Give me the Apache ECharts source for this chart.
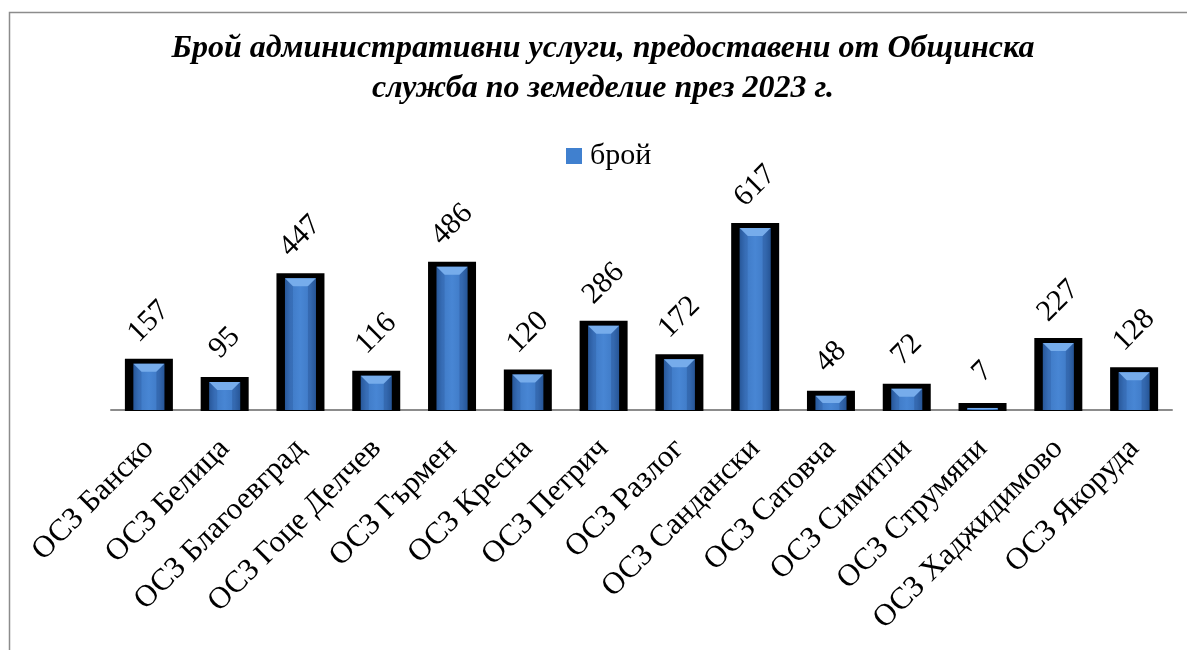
<!DOCTYPE html>
<html>
<head>
<meta charset="utf-8">
<script src="https://cdn.jsdelivr.net/npm/echarts@6/dist/echarts.min.js"></script>
<style>
html,body{margin:0;padding:0;background:#fff;}
#c{width:1187px;height:650px;}
</style>
</head>
<body>
<div id="c"></div>
<script>
const titleText = 'Брой административни услуги, предоставени от Общинска\nслужба по земеделие през 2023 г.';
const seriesName = 'брой';
const categories = ['ОСЗ Банско','ОСЗ Белица','ОСЗ Благоевград','ОСЗ Гоце Делчев','ОСЗ Гърмен','ОСЗ Кресна','ОСЗ Петрич','ОСЗ Разлог','ОСЗ Сандански','ОСЗ Сатовча','ОСЗ Симитли','ОСЗ Струмяни','ОСЗ Хаджидимово','ОСЗ Якоруда'];
const values = [157,95,447,116,486,120,286,172,617,48,72,7,227,128];

const chart = echarts.init(document.getElementById('c'), null, {renderer:'canvas'});
const FONT = "'Liberation Serif','Times New Roman',serif";

function renderItem(params, api){
  const idx = api.value(0);
  const val = api.value(1);
  const top = api.coord([idx, val]);
  const base = api.coord([idx, 0]);
  const cx = top[0];
  const ty = top[1];
  const by = base[1];
  const ow = 48, iw = 31;
  const h = by - ty;
  const bev = Math.min(8, h/2);
  const label = String(val);
  const off = 33 + 3*label.length;
  return {
    type:'group',
    children:[
      {type:'rect', shape:{x:cx-ow/2, y:ty-5, width:ow, height:by-ty+6}, style:{fill:'#000'}},
      {type:'rect', shape:{x:cx-iw/2, y:ty, width:iw, height:h},
        style:{fill:new echarts.graphic.LinearGradient(0,0,1,0,[
          {offset:0,color:'#2c5fa3'},{offset:0.18,color:'#3f7ac6'},{offset:0.5,color:'#4886d4'},{offset:0.82,color:'#3f7ac6'},{offset:1,color:'#2c5fa3'}])}},
      {type:'polygon', shape:{points:[[cx-iw/2,ty],[cx+iw/2,ty],[cx+iw/2-bev,ty+bev],[cx-iw/2+bev,ty+bev]]},
        style:{fill:'#76aceb'}},
      {type:'polygon', shape:{points:[[cx-iw/2,ty],[cx-iw/2+bev,ty+bev],[cx-iw/2+bev,by],[cx-iw/2,by]]},
        style:{fill:'rgba(25,60,120,0.2)'}},
      {type:'polygon', shape:{points:[[cx+iw/2,ty],[cx+iw/2-bev,ty+bev],[cx+iw/2-bev,by],[cx+iw/2,by]]},
        style:{fill:'rgba(25,60,120,0.28)'}},
      {type:'text', x:cx, y:ty-off, rotation:Math.PI/4,
        style:{text:label, font:"30px "+FONT, fill:'#000', align:'center', verticalAlign:'middle'}}
    ]
  };
}

chart.setOption({
  animation:false,
  backgroundColor:'#fff',
  graphic:[{type:'rect', shape:{x:9.5, y:12.5, width:1200, height:700}, style:{fill:'none', stroke:'#8c8c8c', lineWidth:1.5}, z:-1}],
  title:{
    text:titleText, left:598, top:24, textAlign:'center',
    textStyle:{fontFamily:FONT, fontStyle:'italic', fontWeight:'bold', fontSize:32, lineHeight:40, color:'#000'}
  },
  legend:{
    data:[{name:seriesName, icon:'rect'}], top:136, left:561,
    itemWidth:16, itemHeight:16, itemGap:4,
    textStyle:{fontFamily:FONT, fontSize:30, color:'#000', padding:[0,0,0,3]}
  },
  grid:{left:111, right:15, top:203.5, bottom:240, containLabel:false},
  xAxis:{
    type:'category', data:categories,
    axisLine:{lineStyle:{color:'#8c8c8c', width:2}},
    axisTick:{show:false},
    axisLabel:{rotate:45, interval:0, margin:34, fontFamily:FONT, fontSize:31, color:'#000'}
  },
  yAxis:{type:'value', min:0, max:700, show:false, splitLine:{show:false}},
  series:[{
    type:'custom', name:seriesName, renderItem:renderItem,
    itemStyle:{color:'#4080cf'},
    encode:{x:0, y:1},
    data:values.map((v,i)=>[i,v]),
    z:3
  }]
});
</script>
</body>
</html>
